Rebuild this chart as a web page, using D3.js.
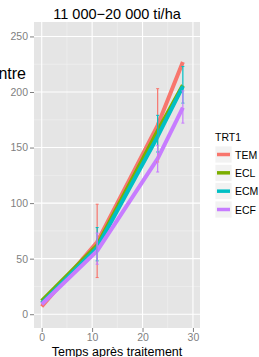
<!DOCTYPE html>
<html>
<head>
<meta charset="utf-8">
<script src="https://cdn.jsdelivr.net/npm/d3@7"></script>
<style>
  body { margin: 0; background: #fff; }
  svg { display: block; font-family: "Liberation Sans", Arial, sans-serif; }
</style>
</head>
<body>
<div id="chart"></div>
<script>
// temps (jours) et moyennes par traitement
const times = [0, 11, 23, 28];
const series = ["TEM", "ECL", "ECM", "ECF"];
const colors = ["#F8766D", "#7CAE00", "#00BFC4", "#C77CFF"];

const TEM = [7, 65, 170, 227];
const ECL = [12, 62, 165, 206];
const ECM = [10, 60, 160, 205];
const ECF = [9, 57, 140, 186];

// barres d'erreur [bas, haut], null = pas de barre
const TEM_err = [null, [33, 99], [137, 203], null];
const ECL_err = [null, null, null, null];
const ECM_err = [null, [48, 78], [146, 179], [190, 223]];
const ECF_err = [null, [45, 73], [128, 152], [172, 201]];

const xTicks = [0, 10, 20, 30];
const yTicks = [0, 50, 100, 150, 200, 250];

const values = { TEM, ECL, ECM, ECF };
const errors = { TEM: TEM_err, ECL: ECL_err, ECM: ECM_err, ECF: ECF_err };

const width = 259, height = 357;
const panel = { left: 34, right: 200, top: 22, bottom: 328 };

const x = d3.scaleLinear().domain([-1.53, 31.4]).range([panel.left, panel.right]);
const y = d3.scaleLinear().domain([-12.4, 263]).range([panel.bottom, panel.top]);

const svg = d3.select("#chart").append("svg")
    .attr("width", width)
    .attr("height", height);

// fond du panneau
svg.append("rect")
    .attr("x", panel.left)
    .attr("y", panel.top)
    .attr("width", panel.right - panel.left)
    .attr("height", panel.bottom - panel.top)
    .attr("fill", "#E5E5E5");

// grille mineure
const xMinor = [5, 15, 25];
const yMinor = [25, 75, 125, 175, 225];
svg.append("g").selectAll("line").data(xMinor).enter().append("line")
    .attr("x1", d => x(d)).attr("x2", d => x(d))
    .attr("y1", panel.top).attr("y2", panel.bottom)
    .attr("stroke", "#F2F2F2").attr("stroke-width", 0.6);
svg.append("g").selectAll("line").data(yMinor).enter().append("line")
    .attr("y1", d => y(d)).attr("y2", d => y(d))
    .attr("x1", panel.left).attr("x2", panel.right)
    .attr("stroke", "#F2F2F2").attr("stroke-width", 0.6);

// grille majeure
svg.append("g").selectAll("line").data(xTicks).enter().append("line")
    .attr("x1", d => x(d)).attr("x2", d => x(d))
    .attr("y1", panel.top).attr("y2", panel.bottom)
    .attr("stroke", "#fff").attr("stroke-width", 1.1);
svg.append("g").selectAll("line").data(yTicks).enter().append("line")
    .attr("y1", d => y(d)).attr("y2", d => y(d))
    .attr("x1", panel.left).attr("x2", panel.right)
    .attr("stroke", "#fff").attr("stroke-width", 1.1);

// axes
const xAxis = svg.append("g")
    .attr("transform", `translate(0,${panel.bottom})`)
    .call(d3.axisBottom(x).tickValues(xTicks).tickSize(4).tickPadding(2));
const yAxis = svg.append("g")
    .attr("transform", `translate(${panel.left},0)`)
    .call(d3.axisLeft(y).tickValues(yTicks).tickSize(4).tickPadding(2));

[xAxis, yAxis].forEach(ax => {
    ax.select(".domain").remove();
    ax.selectAll(".tick line").attr("stroke", "#7F7F7F");
    ax.selectAll(".tick text")
        .attr("fill", "#7F7F7F")
        .style("font-size", "10.5px")
        .style("font-family", "Liberation Sans, Arial, sans-serif");
});

// lignes
const line = d3.line()
    .x((d, i) => x(times[i]))
    .y(d => y(d));

series.forEach((s, k) => {
    svg.append("path")
        .datum(values[s])
        .attr("d", line)
        .attr("fill", "none")
        .attr("stroke", colors[k])
        .attr("stroke-width", 4)
        .attr("stroke-linejoin", "round");
});

// barres d'erreur
series.forEach((s, k) => {
    const g = svg.append("g");
    errors[s].forEach((e, i) => {
        if (!e) return;
        const cx = x(times[i]);
        g.append("line")
            .attr("x1", cx).attr("x2", cx)
            .attr("y1", y(e[0])).attr("y2", y(e[1]))
            .attr("stroke", colors[k]).attr("stroke-width", 1.2);
        [e[0], e[1]].forEach(v => {
            g.append("line")
                .attr("x1", cx - 1.5).attr("x2", cx + 1.5)
                .attr("y1", y(v)).attr("y2", y(v))
                .attr("stroke", colors[k]).attr("stroke-width", 1);
        });
    });
});

// titre
svg.append("text")
    .attr("x", (panel.left + panel.right) / 2)
    .attr("y", 19)
    .attr("text-anchor", "middle")
    .style("font-size", "14.5px")
    .attr("fill", "#000")
    .text("11 000\u221220 000 ti/ha");

// titre axe y (coupé)
svg.append("text")
    .attr("x", 26)
    .attr("y", 79)
    .attr("text-anchor", "end")
    .style("font-size", "16px")
    .attr("fill", "#000")
    .text("Hauteur moyenne au centre");

// titre axe x
svg.append("text")
    .attr("x", (panel.left + panel.right) / 2)
    .attr("y", 356)
    .attr("text-anchor", "middle")
    .style("font-size", "12.5px")
    .attr("fill", "#000")
    .text("Temps après traitement");

// légende
const legend = svg.append("g").attr("transform", "translate(215,0)");
legend.append("text")
    .attr("x", 0)
    .attr("y", 140.5)
    .style("font-size", "10.5px")
    .attr("fill", "#000")
    .text("TRT1");

const rowY = d3.scalePoint().domain(series).range([154.5, 209.5]);

const key = legend.selectAll("g.key").data(series).enter().append("g")
    .attr("class", "key")
    .attr("transform", d => `translate(0,${rowY(d)})`);
key.append("rect")
    .attr("x", 0).attr("y", -8.5)
    .attr("width", 17).attr("height", 17)
    .attr("fill", "#F2F2F2")
    .attr("stroke", "#fff").attr("stroke-width", 0.8);
key.append("line")
    .attr("x1", 2).attr("x2", 15)
    .attr("stroke", (d, i) => colors[i])
    .attr("stroke-width", 3.5);
key.append("text")
    .attr("x", 20)
    .attr("y", 4)
    .style("font-size", "10.5px")
    .attr("fill", "#000")
    .text(d => d);
</script>
</body>
</html>
